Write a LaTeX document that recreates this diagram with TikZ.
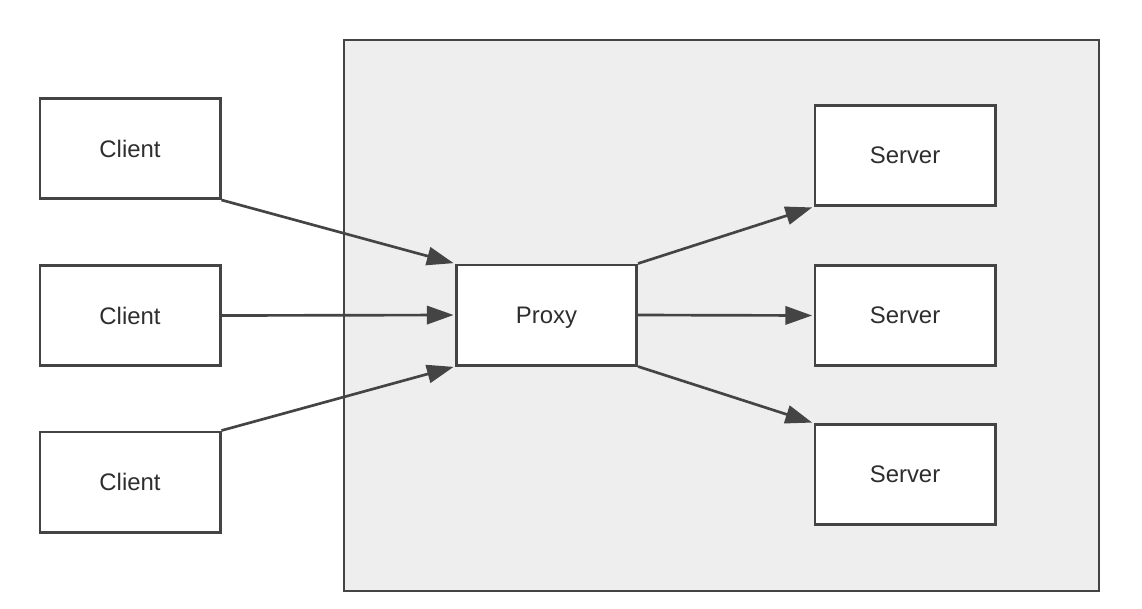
\documentclass[tikz,border=0pt]{standalone}
\usepackage{fontspec}
\setmainfont{Liberation Sans}
\usetikzlibrary{arrows.meta}
\definecolor{boxline}{HTML}{444444}
\definecolor{zonefill}{HTML}{EEEEEE}
\definecolor{labeltext}{HTML}{2E2E2E}
\tikzset{
  unitbox/.style={draw=boxline, line width=2.1pt, fill=white, minimum width=4.5cm, minimum height=2.5cm, inner sep=0pt, text depth=0pt, text=labeltext, font=\fontsize{17}{20}\selectfont},
  flow/.style={draw=boxline, line width=1.9pt, -{Triangle[length=19pt,width=13pt]}, shorten >=1pt}
}
\begin{document}
\begin{tikzpicture}[x=0.025cm, y=-0.025cm]
\useasboundingbox (0,0) rectangle (1142,608);
\draw[draw=boxline, line width=2.1pt, fill=zonefill] (344,40) rectangle (1099,591);
\node[unitbox] (cli1) at (130,148.5){Client};
\node[unitbox] (cli2) at (130,315.5){Client};
\node[unitbox] (cli3) at (130,482){Client};
\node[unitbox] (proxy) at (546.5,315){Proxy};
\node[unitbox] (srv1) at (905,155.5){Server};
\node[unitbox] (srv2) at (905,315.5){Server};
\node[unitbox] (srv3) at (905,474.5){Server};
\draw[flow](cli1.south east) -- (proxy.north west);
\draw[flow](cli2.east) -- (proxy.west);
\draw[flow](cli3.north east) -- (proxy.south west);
\draw[flow](proxy.north east) -- (srv1.south west);
\draw[flow](proxy.east) -- (srv2.west);
\draw[flow](proxy.south east) -- (srv3.north west);
\end{tikzpicture}
\end{document}
